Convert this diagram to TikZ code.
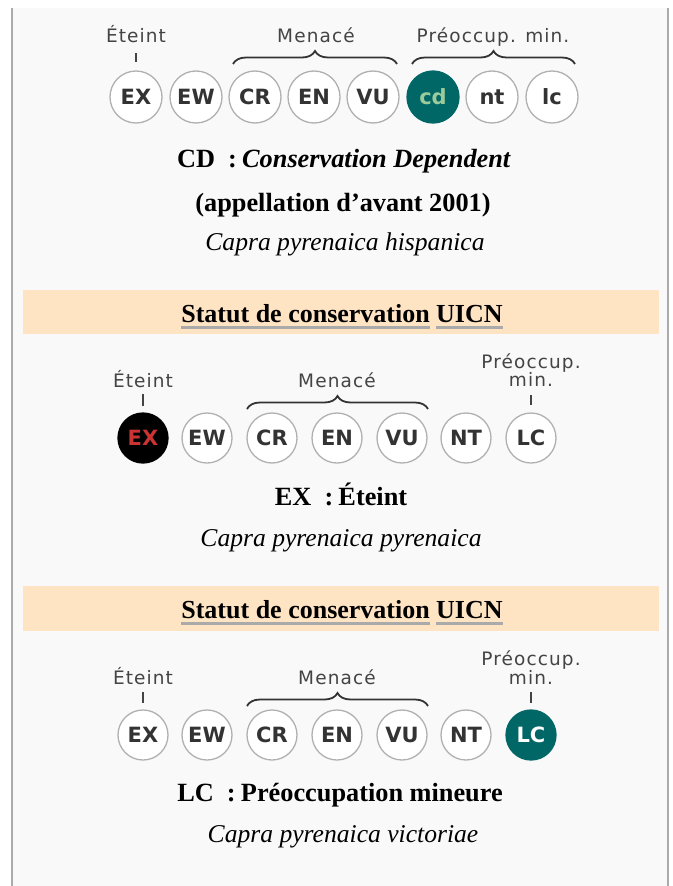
\documentclass[tikz,border=0pt]{standalone}
\usepackage{fontspec}
\setmainfont{Liberation Serif}
\newfontfamily\badgefont{DejaVu Sans}
\newfontfamily\tagfont{DejaVu Sans}[LetterSpace=6]
\usetikzlibrary{decorations.pathreplacing}
\definecolor{boxbg}{HTML}{F9F9F9}
\definecolor{boxline}{HTML}{AAAAAA}
\definecolor{bandbg}{HTML}{FFE4C4}
\definecolor{ringgray}{HTML}{B0B0B0}
\definecolor{badgetext}{HTML}{333333}
\definecolor{taggray}{HTML}{444444}
\definecolor{lcteal}{HTML}{006666}
\definecolor{cdgreen}{HTML}{9BCB9B}
\definecolor{exred}{HTML}{CC3333}
\tikzset{
	badge/.style={circle,draw=ringgray,line width=1.3pt,fill=white,minimum size=50pt,inner sep=0pt,
		font=\badgefont\bfseries\fontsize{21}{21}\selectfont,text=badgetext},
	tag/.style={font=\tagfont\fontsize{18.5}{18.5}\selectfont,text=taggray,inner sep=0pt,anchor=base},
	tickline/.style={draw=taggray,line width=1.6pt},
	bracket/.style={draw=badgetext,line width=1.8pt,decorate,decoration={brace,amplitude=13pt}},
	caption/.style={font=\fontsize{25.6}{30}\selectfont,inner sep=0pt,anchor=base},
	boldcaption/.style={font=\bfseries\fontsize{26.3}{30}\selectfont,inner sep=0pt,anchor=base},
	headtext/.style={font=\bfseries\fontsize{26}{30}\selectfont,inner sep=0pt},
	ulink/.style={draw=boxline,line width=2.5pt},
}
\begin{document}
\begin{tikzpicture}[x=1pt,y=-1pt]
	\useasboundingbox (0,0) rectangle (672,886);
	\fill [boxbg] (12,8) rectangle (668,886);	% infobox
	\draw [boxline,line width=2pt] (12,8) -- (12,886);	% left rule
	\draw [boxline,line width=2pt] (668,8) -- (668,886);	% right rule

	% first scale (before 2001)
	\foreach \lab/\x in {EX/136,EW/196,CR/255,EN/314,VU/373}
		\node [badge,minimum size=52pt] (a\lab) at (\x,97) {\lab};
	\node [badge,minimum size=52pt,fill=lcteal,draw=lcteal,text=cdgreen] (acd) at (433,97) {cd};
	\node [badge,minimum size=52pt] (ant) at (492,97) {nt};
	\node [badge,minimum size=52pt] (alc) at (552,97) {lc};
	\node [tag] (a-eteint) at (136,42) {Éteint};
	\draw [tickline] (136,53) -- (136,62);
	\node [tag] (a-menace) at (316,42) {Menacé};
	\draw [bracket] (233,64) -- (397,64);
	\node [tag] (a-preocc) at (493,42) {Préoccup. min.};
	\draw [bracket] (412,64) -- (575,64);

	\node [boldcaption] (a-status) at (344,167) {CD\hspace{0.5em}:\hspace{0.2em}\textit{Conservation Dependent}};
	\node [boldcaption] (a-note) at (343,211) {(appellation d’avant 2001)};
	\node [caption] (a-taxon) at (345,250) {\textit{Capra pyrenaica hispanica}};

	% second scale
	\fill [bandbg] (23,290) rectangle (659,334);
	\node [headtext,anchor=base east] (b-head) at (430,322) {Statut de conservation};
	\node [headtext,anchor=base west] (b-uicn) at (436,322) {UICN};
	\draw [ulink] ([yshift=-5.5pt]b-head.base west) -- ([yshift=-5.5pt]b-head.base east);
	\draw [ulink] ([yshift=-5.5pt]b-uicn.base west) -- ([yshift=-5.5pt]b-uicn.base east);

	\node [badge,fill=black,draw=black,text=exred] (bEX) at (143,438) {EX};
	\foreach \lab/\x in {EW/207,CR/272,EN/337,VU/402,NT/466,LC/531}
		\node [badge] (b\lab) at (\x,438) {\lab};
	\node [tag] (b-eteint) at (143,387) {Éteint};
	\draw [tickline] (143,394) -- (143,406);
	\node [tag] (b-menace) at (337,387) {Menacé};
	\draw [bracket] (247,409) -- (428,409);
	\node [tag] (b-preocc) at (531,368) {Préoccup.};
	\node [tag] (b-min) at (531,386) {min.};
	\draw [tickline] (531,395) -- (531,405);

	\node [boldcaption] (b-status) at (341,505) {EX\hspace{0.5em}:\hspace{0.2em}Éteint};
	\node [caption] (b-taxon) at (341,546) {\textit{Capra pyrenaica pyrenaica}};

	% third scale
	\fill [bandbg] (23,586) rectangle (659,631);
	\node [headtext,anchor=base east] (c-head) at (430,618) {Statut de conservation};
	\node [headtext,anchor=base west] (c-uicn) at (436,618) {UICN};
	\draw [ulink] ([yshift=-5.5pt]c-head.base west) -- ([yshift=-5.5pt]c-head.base east);
	\draw [ulink] ([yshift=-5.5pt]c-uicn.base west) -- ([yshift=-5.5pt]c-uicn.base east);

	\foreach \lab/\x in {EX/143,EW/207,CR/272,EN/337,VU/402,NT/466}
		\node [badge] (c\lab) at (\x,735) {\lab};
	\node [badge,fill=lcteal,draw=lcteal,text=white] (cLC) at (531,735) {LC};
	\node [tag] (c-eteint) at (143,684) {Éteint};
	\draw [tickline] (143,692) -- (143,703);
	\node [tag] (c-menace) at (337,684) {Menacé};
	\draw [bracket] (247,706) -- (428,706);
	\node [tag] (c-preocc) at (531,665) {Préoccup.};
	\node [tag] (c-min) at (531,684) {min.};
	\draw [tickline] (531,692) -- (531,703);

	\node [boldcaption] (c-status) at (340,801) {LC\hspace{0.5em}:\hspace{0.2em}Préoccupation mineure};
	\node [caption] (c-taxon) at (343,842) {\textit{Capra pyrenaica victoriae}};
\end{tikzpicture}
\end{document}
